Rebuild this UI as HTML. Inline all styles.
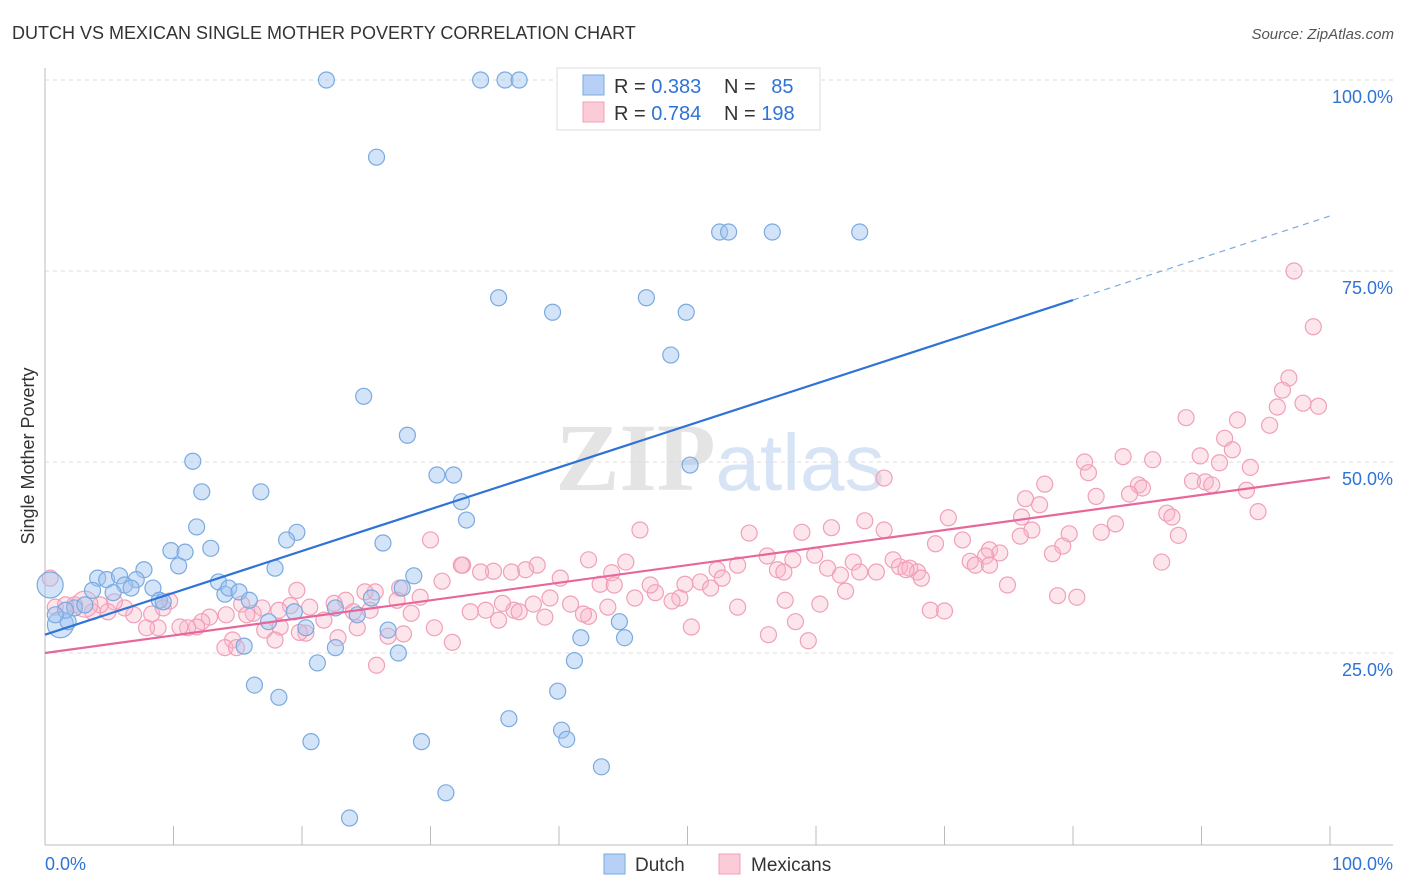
<!DOCTYPE html>
<html><head><meta charset="utf-8"><style>
body{margin:0;background:#fff;font-family:"Liberation Sans",sans-serif;}
svg{display:block}
</style></head><body>
<svg id="chart" width="1406" height="892" xmlns="http://www.w3.org/2000/svg">
<text x="12" y="39" font-size="18" fill="#333">DUTCH VS MEXICAN SINGLE MOTHER POVERTY CORRELATION CHART</text>
<text x="1394" y="39" font-size="15" fill="#555" font-style="italic" text-anchor="end">Source: ZipAtlas.com</text>
<text x="720" y="490" font-size="96" text-anchor="middle" fill="#e4e4e4" font-family="Liberation Serif,serif" font-weight="bold">ZIP<tspan fill="#d6e4f5" font-family="Liberation Sans,sans-serif" font-weight="normal" font-size="80">atlas</tspan></text>
<text transform="translate(34,456) rotate(-90)" font-size="18" fill="#333" text-anchor="middle">Single Mother Poverty</text>
<g id="grid"></g>
<g id="axes"></g>
<g id="pts"></g>
<g id="lines"></g>
<g>
<rect x="557" y="68" width="263" height="62" fill="#fff" stroke="#ddd"/>
<rect x="583" y="75" width="21" height="20" fill="#b6d1f5" stroke="#7aaae0"/>
<rect x="583" y="102" width="21" height="20" fill="#fbcbd8" stroke="#f0a0b8"/>
<text x="614" y="93" font-size="20" fill="#333">R = <tspan fill="#2f73d6">0.383</tspan></text>
<text x="724" y="93" font-size="20" fill="#333">N = <tspan fill="#2f73d6" dx="10">85</tspan></text>
<text x="614" y="120" font-size="20" fill="#333">R = <tspan fill="#2f73d6">0.784</tspan></text>
<text x="724" y="120" font-size="20" fill="#333">N = <tspan fill="#2f73d6">198</tspan></text>
</g>
<g>
<rect x="604" y="854" width="21" height="20" fill="#b6d1f5" stroke="#7aaae0"/>
<text x="635" y="871" font-size="19" fill="#333">Dutch</text>
<rect x="719" y="854" width="21" height="20" fill="#fbcbd8" stroke="#f0a0b8"/>
<text x="751" y="871" font-size="19" fill="#333">Mexicans</text>
</g>
</svg>
<script>
const yTicks=[25,50,75,100];
const yTickLabels=["25.0%","50.0%","75.0%","100.0%"];
const xTicks=[0,10,20,30,40,50,60,70,80,90,100];
const dutchX=[21.9,33.9,35.8,36.9,25.8,52.5,53.2,56.6,63.4,35.3,39.5,46.8,49.9,48.7,24.8,28.2,30.5,31.8,32.4,32.8,50.2,11.5,12.2,16.8,11.8,12.9,9.8,10.9,10.4,7.7,4.1,4.8,5.8,7.1,6.2,6.7,8.4,3.7,5.3,8.9,9.2,13.5,14.0,14.3,15.1,15.9,19.6,18.8,17.9,26.3,28.7,27.8,25.4,22.6,24.3,19.4,20.3,17.4,26.7,15.5,22.6,27.5,41.7,45.1,44.7,41.2,21.2,16.3,18.2,39.9,36.1,40.2,40.6,20.7,29.3,43.3,31.2,23.7,0.4,1.2,1.8,2.3,3.1,1.6,0.8];
const dutchY=[100,100,100,100,89.9,80.1,80.1,80.1,80.1,71.5,69.6,71.5,69.6,64.0,58.6,53.5,48.3,48.3,44.8,42.4,49.6,50.1,46.1,46.1,41.5,38.7,38.4,38.2,36.4,35.9,34.8,34.6,35.1,34.6,33.9,33.5,33.5,33.2,32.9,31.9,31.7,34.3,32.7,33.5,33.0,31.9,40.8,39.8,36.1,39.4,35.1,33.5,32.2,30.9,30.0,30.4,28.3,29.1,28.0,25.9,25.7,25.0,27.0,27.0,29.1,24.0,23.7,20.8,19.2,20.0,16.4,14.9,13.7,13.4,13.4,10.1,6.7,3.4,33.9,28.7,29.1,30.9,31.3,30.6,30.0];
const dutchBig=[78,79];
const mexX=[97.2,98.7,96.8,96.3,97.9,99.1,95.9,92.8,95.3,88.8,91.8,92.4,89.9,93.8,91.4,86.2,83.9,80.9,81.2,85.1,85.4,84.4,81.8,89.3,90.3,90.8,93.5,94.4,87.3,87.7,88.2,83.3,82.2,77.8,76.3,77.4,76.0,76.8,79.7,79.2,78.4,75.9,70.3,65.3,63.8,61.2,58.9,54.8,46.3,30.0,32.5,65.3,69.3,71.4,73.5,74.3,73.2,72.0,72.4,73.5,86.9,74.9,78.8,80.3,68.9,70.0,66.0,66.5,67.3,67.9,67.0,68.2,64.7,62.9,63.4,61.9,60.9,59.9,58.2,57.0,57.5,56.2,53.9,52.3,52.7,51.0,49.8,51.8,49.4,48.8,47.5,47.1,45.9,45.2,44.1,43.2,42.3,40.1,38.3,37.4,36.3,34.9,33.9,32.4,30.9,29.2,27.6,27.4,28.5,25.7,24.9,25.3,23.4,24.0,22.5,21.7,20.6,19.6,19.1,18.2,20.3,18.3,16.9,16.2,15.3,15.7,14.1,12.8,12.2,11.8,11.1,10.5,8.8,7.9,6.9,6.2,5.4,4.9,4.3,3.7,8.3,9.2,9.7,14.6,14.0,14.9,17.1,17.9,19.8,22.8,24.3,26.7,27.9,30.3,31.7,33.1,34.3,35.3,36.5,38.0,39.3,40.9,42.3,43.8,38.9,36.9,41.9,35.6,44.3,25.8,50.3,56.3,59.4,53.9,57.6,60.3,62.3,58.4,0.4,0.8,1.6,2.3,3.1];
const mexY=[75.0,67.7,61.0,59.4,57.7,57.3,57.2,55.5,54.8,55.8,53.1,51.6,50.8,49.3,49.9,50.3,50.7,50.0,48.6,47.0,46.6,45.8,45.5,47.5,47.4,47.0,46.3,43.5,43.3,42.8,40.4,41.9,40.8,47.1,45.2,44.4,42.8,41.1,40.6,39.0,38.0,40.3,42.7,47.9,42.3,41.4,40.8,40.7,41.1,39.8,36.5,41.1,39.3,39.8,38.5,38.1,37.7,37.0,36.5,36.5,36.9,33.9,32.5,32.3,30.6,30.5,37.2,36.3,36.1,35.6,35.9,34.8,35.6,36.9,35.6,35.2,36.1,37.8,37.2,35.9,35.6,37.7,36.5,35.9,34.8,34.3,34.0,33.5,32.2,31.8,32.9,33.9,32.2,36.9,35.5,34.0,37.2,34.8,36.5,35.9,35.6,35.7,35.6,36.5,34.4,32.3,33.5,31.9,30.2,33.0,33.0,30.6,31.9,30.4,31.5,29.3,31.0,33.2,31.2,30.6,27.6,28.4,30.9,30.2,31.4,30.0,30.0,29.7,29.1,28.4,28.3,28.4,28.3,28.3,30.0,30.9,31.7,30.4,31.3,30.4,30.1,30.9,31.8,26.7,25.7,25.7,28.0,26.7,27.7,27.0,28.3,27.2,27.5,28.3,26.4,30.4,30.6,29.3,30.6,31.4,32.2,31.4,29.8,31.0,29.7,30.4,30.1,31.5,33.9,23.4,28.4,27.4,26.6,31.0,31.9,31.4,33.1,29.1,34.8,31.0,31.3,31.3,31.4];
const mexBig=[182,183];
const dutchTrend=[[0,27.4],[80,71.2],[100,82.2]];
const mexTrend=[[0,25],[100,48]];
const X=v=>45+v*12.85, Y=v=>844-v*7.64;
const NS="http://www.w3.org/2000/svg";
function mk(tag,attrs,parent){const e=document.createElementNS(NS,tag);for(const k in attrs)e.setAttribute(k,attrs[k]);parent.appendChild(e);return e;}
const grid=document.getElementById('grid'),axes=document.getElementById('axes'),pts=document.getElementById('pts'),lines=document.getElementById('lines');
yTicks.forEach((t,i)=>{
 const l=mk('line',{x1:45,x2:1393,y1:Y(t),y2:Y(t),stroke:'#ddd','stroke-dasharray':'4,4'},grid);
 
 
 const tx=mk('text',{x:1393,y:Y(t)+23,'font-size':18,fill:'#2f73d6','text-anchor':'end'},axes);
 tx.textContent=yTickLabels[i];
 
 
});
const ax=mk('line',{x1:45,x2:1393,y1:845,y2:845,stroke:'#bbb'},axes);


const ay=mk('line',{x1:45,x2:45,y1:68,y2:845,stroke:'#bbb'},axes);


xTicks.forEach(t=>{
 const l=mk('line',{x1:X(t),x2:X(t),y1:826,y2:845,stroke:'#bbb'},axes);
 
 
});
const x0=mk('text',{x:45,y:870,'font-size':18,fill:'#2f73d6'},axes);x0.textContent='0.0%';


const x1=mk('text',{x:1393,y:870,'font-size':18,fill:'#2f73d6','text-anchor':'end'},axes);x1.textContent='100.0%';


mexX.forEach((v,i)=>{
 const c=mk('circle',{cx:X(v),cy:Y(mexY[i]),r:mexBig.includes(i)?13:8,fill:'rgba(248,180,200,0.35)',stroke:'#f0a0b8','stroke-width':1.2},pts);
 
 
});
dutchX.forEach((v,i)=>{
 const c=mk('circle',{cx:X(v),cy:Y(dutchY[i]),r:dutchBig.includes(i)?13:8,fill:'rgba(160,196,240,0.45)',stroke:'#7aaae0','stroke-width':1.2},pts);
 
 
});
const d1=mk('line',{x1:X(dutchTrend[0][0]),y1:Y(dutchTrend[0][1]),x2:X(dutchTrend[1][0]),y2:Y(dutchTrend[1][1]),stroke:'#2f73d6','stroke-width':2.2},lines);


const d2=mk('line',{x1:X(dutchTrend[1][0]),y1:Y(dutchTrend[1][1]),x2:X(dutchTrend[2][0]),y2:Y(dutchTrend[2][1]),stroke:'#7aaae0','stroke-width':1.2,'stroke-dasharray':'6,5'},lines);


const m1=mk('line',{x1:X(mexTrend[0][0]),y1:Y(mexTrend[0][1]),x2:X(mexTrend[1][0]),y2:Y(mexTrend[1][1]),stroke:'#e8679a','stroke-width':2.2},lines);


</script>
</body></html>
